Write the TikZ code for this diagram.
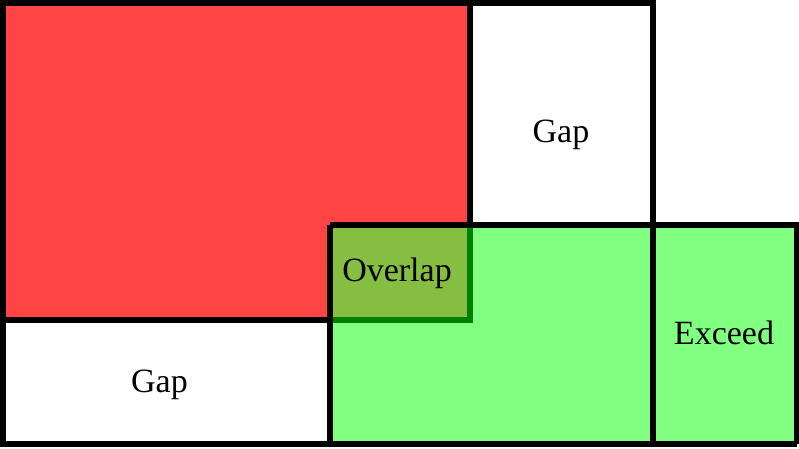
\documentclass[tikz,border=0pt]{standalone}
\usepackage{fontspec}
\setmainfont{Liberation Serif}
\definecolor{redfill}{RGB}{255,68,68}
\definecolor{greenfill}{RGB}{128,255,128}
\definecolor{overlapfill}{RGB}{133,190,64}
\definecolor{darkgreen}{RGB}{0,128,0}
\tikzset{
  edge/.style={draw=black, line width=6pt},
  lbl/.style={font=\fontsize{34}{40}\selectfont, inner sep=0pt, anchor=center}
}
\begin{document}
\begin{tikzpicture}[x=1pt,y=-1pt]
\useasboundingbox (0,0) rectangle (799,448);
\begin{scope}
\clip (0,0) rectangle (799,448);
% red block
\fill[redfill] (3,3) rectangle (469.5,320);
\draw[edge] (3,3) rectangle (469.5,320);
% green block
\fill[greenfill] (329.5,225) rectangle (797,444);
\fill[overlapfill] (329.5,225) rectangle (469.5,320);
\draw[edge, draw=darkgreen] (469.5,225) -- (469.5,320) -- (329.5,320);
\draw[edge] (329.5,225) -- (797,225) -- (797,444);
\draw[edge] (329.5,225) -- (329.5,444);
% outer frame
\draw[edge] (3,3) rectangle (653,444);
\draw[edge] (653,444) -- (797,444);
\end{scope}
\node[lbl] (gap1) at (561,135) {Gap};
\node[lbl] (gap2) at (159.5,385) {Gap};
\node[lbl] (overlap) at (397,273) {Overlap};
\node[lbl] (exceed) at (724,333) {Exceed};
\end{tikzpicture}
\end{document}
